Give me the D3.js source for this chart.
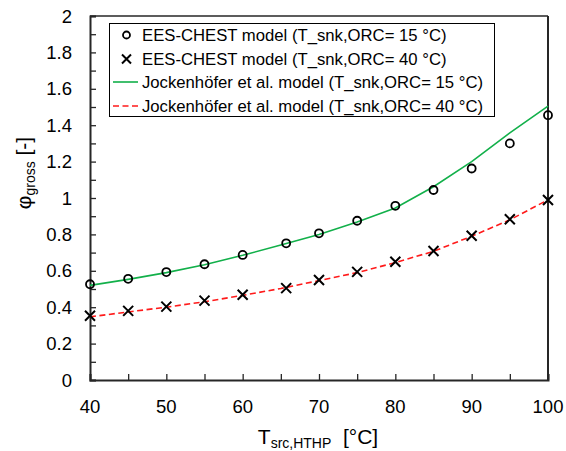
<!DOCTYPE html>
<html><head><meta charset="utf-8">
<script src="https://cdn.jsdelivr.net/npm/d3@7"></script>
<style>
body{margin:0;background:#fff;}
svg{display:block;font-family:"Liberation Sans",Arial,sans-serif;}
</style></head>
<body><svg id="c" width="566" height="451"></svg>
<script>
// Data
const eesX = [40,45,50,55,60,65.7,70,75,80,85,90,95,100];
const ees15 = [0.526,0.556,0.593,0.636,0.687,0.751,0.806,0.875,0.957,1.044,1.162,1.300,1.455];
const ees40 = [0.353,0.380,0.403,0.436,0.468,0.505,0.549,0.594,0.650,0.709,0.793,0.883,0.989];
const jockX = [40,45,50,55,60,65,70,75,80,85,90,95,100];
const jock15 = [0.520,0.553,0.590,0.633,0.685,0.742,0.800,0.868,0.945,1.062,1.200,1.358,1.505];
const jock40 = [0.347,0.374,0.400,0.430,0.465,0.503,0.546,0.590,0.645,0.707,0.790,0.880,0.990];
const xTicks = [40,50,60,70,80,90,100];
const yTicks = [0,0.2,0.4,0.6,0.8,1,1.2,1.4,1.6,1.8,2];
const legendLabels = ["EES-CHEST model (T_snk,ORC= 15 °C)","EES-CHEST model (T_snk,ORC= 40 °C)","Jockenhöfer et al. model (T_snk,ORC= 15 °C)","Jockenhöfer et al. model (T_snk,ORC= 40 °C)"];

const svg = d3.select("#c");
const L=90, R=548, T=16, B=380;
const x = d3.scaleLinear().domain([40,100]).range([L,R]);
const y = d3.scaleLinear().domain([0,2]).range([B,T]);
const axisCol = "#262626";
const green = "#12b04a", red = "#ff1a1a";

// frame top/right
svg.append("line").attr("x1",L).attr("x2",R).attr("y1",T).attr("y2",T).attr("stroke",axisCol).attr("stroke-width",1.5);
svg.append("line").attr("x1",R).attr("x2",R).attr("y1",T).attr("y2",B).attr("stroke",axisCol).attr("stroke-width",2);

// axes
const xAx = svg.append("g").attr("transform",`translate(0,${B})`)
  .call(d3.axisBottom(x).tickValues(d3.range(40,101,5)).tickSize(-6).tickPadding(0).tickFormat(""));
const yAx = svg.append("g").attr("transform",`translate(${L},0)`)
  .call(d3.axisLeft(y).tickValues(d3.range(0,21).map(i=>i/10)).tickSize(-6).tickFormat(""));
[xAx,yAx].forEach(g=>{
  g.select(".domain").attr("stroke",axisCol).attr("stroke-width",2);
  g.selectAll(".tick line").attr("stroke",axisCol).attr("stroke-width",1.3);
});
// tick labels
svg.append("g").selectAll("text").data(xTicks).join("text")
  .attr("x",d=>x(d)).attr("y",413).attr("text-anchor","middle")
  .attr("font-size",18.5).attr("fill","#000").text(d=>d);
svg.append("g").selectAll("text").data(yTicks).join("text")
  .attr("x",72).attr("y",d=>y(d)+6.5).attr("text-anchor","end")
  .attr("font-size",18.5).attr("fill","#000").text(d=>d3.format("~g")(d));

// axis titles
const xt = svg.append("text").attr("x",318).attr("y",444).attr("text-anchor","middle").attr("font-size",21).attr("fill","#000");
xt.append("tspan").text("T");
xt.append("tspan").attr("font-size",14).attr("dy",4).text("src,HTHP");
xt.append("tspan").attr("dy",-4).text("\u00a0 [°C]");
const yt = svg.append("text").attr("transform","translate(31,173) rotate(-90)").attr("text-anchor","middle").attr("font-size",21).attr("fill","#000");
yt.append("tspan").text("φ");
yt.append("tspan").attr("font-size",14).attr("dy",4).text("gross");
yt.append("tspan").attr("dy",-4).text(" [-]");

// lines
const line = (xs)=>d3.line().x((d,i)=>x(xs[i])).y(d=>y(d));
svg.append("path").datum(jock15).attr("d",line(jockX)).attr("fill","none").attr("stroke",green).attr("stroke-width",1.6);
svg.append("path").datum(jock40).attr("d",line(jockX)).attr("fill","none").attr("stroke",red).attr("stroke-width",1.6).attr("stroke-dasharray","6,3.5");

// markers
svg.append("g").selectAll("circle").data(ees15).join("circle")
  .attr("cx",(d,i)=>x(eesX[i])).attr("cy",d=>y(d)).attr("r",4)
  .attr("fill","none").attr("stroke","#000").attr("stroke-width",1.8);
const cross = (g,cx,cy,s)=>g.append("path").attr("d",`M${cx-s},${cy-s}L${cx+s},${cy+s}M${cx-s},${cy+s}L${cx+s},${cy-s}`)
  .attr("stroke","#000").attr("stroke-width",2).attr("fill","none");
const cg = svg.append("g");
ees40.forEach((d,i)=>cross(cg,x(eesX[i]),y(d),5));

// legend
const lg = svg.append("g");
lg.append("rect").attr("x",109.5).attr("y",23.5).attr("width",385).attr("height",93).attr("fill","#fff").attr("stroke","#000").attr("stroke-width",1);
const rowsY = [35,59,82,106];
lg.append("circle").attr("cx",126.5).attr("cy",rowsY[0]).attr("r",3.5).attr("fill","none").attr("stroke","#000").attr("stroke-width",1.8);
cross(lg,126.5,rowsY[1],4.5);
lg.append("line").attr("x1",113).attr("x2",138).attr("y1",rowsY[2]).attr("y2",rowsY[2]).attr("stroke",green).attr("stroke-width",1.6);
lg.append("line").attr("x1",113).attr("x2",138).attr("y1",rowsY[3]).attr("y2",rowsY[3]).attr("stroke",red).attr("stroke-width",1.6).attr("stroke-dasharray","6,3.5");
lg.selectAll("text.l").data(legendLabels).join("text").attr("class","l")
  .attr("x",142).attr("y",(d,i)=>rowsY[i]+6).attr("font-size",16.7).attr("fill","#000").text(d=>d);
</script></body></html>
